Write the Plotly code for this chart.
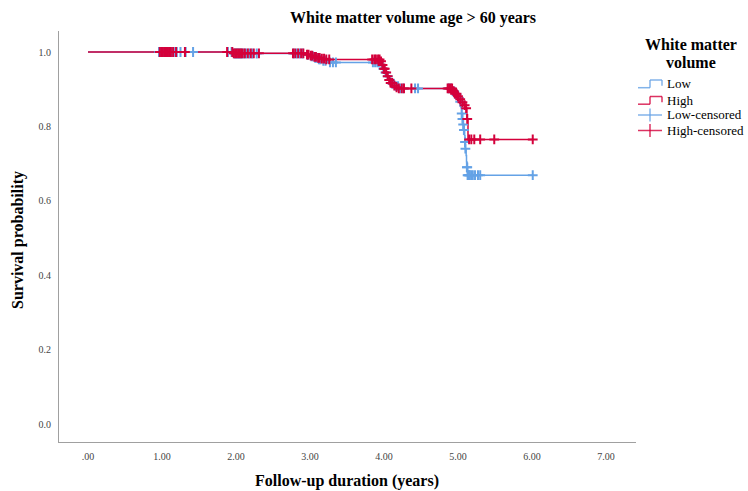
import numpy as np
import plotly.graph_objects as go

# Kaplan-Meier step estimates (time in years, survival after each event)
low_times = [0.0, 1.97, 2.95, 3.00, 3.05, 3.10, 3.16, 3.25,
             3.95, 3.98, 4.01, 4.04, 4.07, 4.10, 4.15, 4.20,
             4.93, 4.96, 4.99, 5.02, 5.04, 5.05, 5.06, 5.07, 5.08, 5.09,
             5.095, 5.10, 5.11, 5.115, 5.12, 5.13, 6.01]
low_surv = [1.000, 0.996, 0.992, 0.988, 0.984, 0.980, 0.976, 0.972,
            0.965, 0.955, 0.945, 0.935, 0.925, 0.915, 0.908, 0.902,
            0.894, 0.886, 0.877, 0.866, 0.850, 0.835, 0.820, 0.805, 0.790, 0.775,
            0.758, 0.740, 0.722, 0.705, 0.690, 0.669, 0.669]

high_times = [0.0, 1.97, 2.95, 3.00, 3.05, 3.10, 3.15, 3.22,
              3.95, 3.98, 4.00, 4.02, 4.04, 4.06, 4.09, 4.12, 4.16, 4.20,
              4.93, 4.96, 4.99, 5.02, 5.05, 5.08, 5.11, 5.12, 5.135, 6.01]
high_surv = [1.000, 0.9965, 0.993, 0.990, 0.987, 0.984, 0.982, 0.980,
             0.975, 0.965, 0.955, 0.945, 0.935, 0.925, 0.917, 0.910, 0.905, 0.902,
             0.895, 0.888, 0.881, 0.873, 0.865, 0.857, 0.849, 0.820, 0.765, 0.765]

# Censoring times per group
low_censor = [0.96, 0.98, 1.00, 1.02, 1.04, 1.06, 1.08, 1.10, 1.13, 1.16, 1.20, 1.25, 1.32, 1.42,
              1.89, 1.94, 1.98, 2.00, 2.02, 2.04, 2.06, 2.08, 2.11, 2.14, 2.18, 2.22, 2.28,
              2.78, 2.82, 2.86, 2.90, 2.97, 3.02, 3.04, 3.07, 3.09, 3.12, 3.14, 3.18, 3.21, 3.27, 3.31, 3.35,
              3.85, 3.88, 3.91, 3.93, 3.97, 3.99, 4.02, 4.05, 4.08, 4.11, 4.13, 4.16, 4.19, 4.22, 4.26, 4.42, 4.46,
              4.87, 4.90, 4.93, 4.95, 4.98, 5.01, 5.03, 5.05, 5.06, 5.07, 5.08, 5.095, 5.10, 5.12, 5.125,
              5.13, 5.14, 5.15, 5.16, 5.18, 5.20, 5.23, 5.27, 5.30, 6.01]
high_censor = [0.97, 0.99, 1.00, 1.01, 1.03, 1.05, 1.06, 1.08, 1.10, 1.12, 1.15, 1.19, 1.31,
               1.88, 1.95, 1.97, 1.99, 2.01, 2.03, 2.05, 2.07, 2.09, 2.12, 2.16, 2.20, 2.24, 2.31,
               2.77, 2.80, 2.84, 2.88, 2.91, 2.96, 2.98, 3.01, 3.03, 3.06, 3.08, 3.11, 3.13, 3.16, 3.19, 3.22, 3.26,
               3.84, 3.87, 3.89, 3.92, 3.94, 3.96, 3.98, 4.00, 4.01, 4.03, 4.05, 4.07, 4.09, 4.11, 4.14, 4.17,
               4.20, 4.24, 4.27, 4.37,
               4.86, 4.88, 4.90, 4.92, 4.94, 4.96, 4.98, 5.00, 5.03, 5.06, 5.09, 5.11, 5.125,
               5.15, 5.18, 5.22, 5.30, 5.49, 6.01]

x_ticks = [0, 1, 2, 3, 4, 5, 6, 7]
x_ticktext = [".00", "1.00", "2.00", "3.00", "4.00", "5.00", "6.00", "7.00"]
y_ticks = [0.0, 0.2, 0.4, 0.6, 0.8, 1.0]
y_ticktext = ["0.0", "0.2", "0.4", "0.6", "0.8", "1.0"]

BLUE = "#64a2e6"
RED = "#d4003b"
SERIF = "Liberation Serif, Times New Roman, serif"


def surv_at(times, surv, t):
    """Survival estimate in effect at time t (right-continuous step)."""
    idx = np.searchsorted(np.asarray(times), np.asarray(t), side="right") - 1
    return np.asarray(surv)[idx]


fig = go.Figure()
fig.add_trace(go.Scatter(x=low_times, y=low_surv, mode="lines", line=dict(shape="hv", color=BLUE, width=1.5),
                         name="Low", showlegend=False))
fig.add_trace(go.Scatter(x=high_times, y=high_surv, mode="lines", line=dict(shape="hv", color=RED, width=1.5),
                         name="High", showlegend=False))
fig.add_trace(go.Scatter(x=low_censor, y=surv_at(low_times, low_surv, low_censor), mode="markers",
                         marker=dict(symbol="cross-thin", size=7, line=dict(color=BLUE, width=2)),
                         name="Low-censored", showlegend=False))
fig.add_trace(go.Scatter(x=high_censor, y=surv_at(high_times, high_surv, high_censor), mode="markers",
                         marker=dict(symbol="cross-thin", size=7, line=dict(color=RED, width=2)),
                         name="High-censored", showlegend=False))

# plot area in pixels: x 59..636, y 31..442
L, R, T, B = 59, 636, 31, 442
W, H = 748, 491


def px(p):
    return (p - L) / (R - L)


def py(q):
    return (B - q) / (B - T)


shapes = []
annotations = []

# Legend block
annotations.append(dict(text="<b>White matter</b>", x=px(691), y=py(45), xref="paper", yref="paper",
                        xanchor="center", yanchor="middle", showarrow=False,
                        font=dict(family=SERIF, size=16, color="#000")))
annotations.append(dict(text="<b>volume</b>", x=px(691), y=py(62), xref="paper", yref="paper",
                        xanchor="center", yanchor="middle", showarrow=False,
                        font=dict(family=SERIF, size=16, color="#000")))

legend_items = [("Low", BLUE, "step", 84), ("High", RED, "step", 100.5),
                ("Low-censored", BLUE, "cross", 115), ("High-censored", RED, "cross", 130.5)]
for label, col, kind, yc in legend_items:
    if kind == "step":
        segs = [(638, yc + 3.7, 650, yc + 3.7), (650, yc + 3.7, 650, yc - 4),
                (650, yc - 4, 662, yc - 4), (662, yc - 4, 662, yc + 1.7)]
    else:
        segs = [(638, yc, 662, yc), (650, yc - 6.5, 650, yc + 6.5)]
    for x0, y0, x1, y1 in segs:
        shapes.append(dict(type="line", xref="paper", yref="paper", x0=px(x0), y0=py(y0), x1=px(x1), y1=py(y1),
                           line=dict(color=col, width=1.5), opacity=0.8))
    annotations.append(dict(text=label, x=px(665), y=py(yc), xref="paper", yref="paper",
                            xanchor="left", yanchor="middle", showarrow=False,
                            font=dict(family=SERIF, size=13, color="#000")))

# Titles
annotations.append(dict(text="<b>White matter volume age > 60 years</b>", x=px(413), y=py(18),
                        xref="paper", yref="paper", xanchor="center", yanchor="middle", showarrow=False,
                        font=dict(family=SERIF, size=16, color="#000")))
annotations.append(dict(text="<b>Follow-up duration (years)</b>", x=px(347), y=py(481),
                        xref="paper", yref="paper", xanchor="center", yanchor="middle", showarrow=False,
                        font=dict(family=SERIF, size=16, color="#000")))
annotations.append(dict(text="<b>Survival probability</b>", x=px(18), y=py(240), textangle=-90,
                        xref="paper", yref="paper", xanchor="center", yanchor="middle", showarrow=False,
                        font=dict(family=SERIF, size=16, color="#000")))

fig.update_layout(
    width=W, height=H,
    margin=dict(l=L, r=W - R, t=T, b=H - B, pad=0),
    paper_bgcolor="white", plot_bgcolor="white",
    showlegend=False,
    shapes=shapes, annotations=annotations,
    xaxis=dict(range=[(L - 88) / 74, (R - 88) / 74], tickvals=x_ticks, ticktext=x_ticktext,
               showgrid=False, zeroline=False, showline=True, linecolor="#a0a0a0", linewidth=1.2,
               ticks="", ticklabelstandoff=5,
               tickfont=dict(family=SERIF, size=10, color="#444")),
    yaxis=dict(range=[(424 - B) / 372, (424 - T) / 372], tickvals=y_ticks, ticktext=y_ticktext,
               showgrid=False, zeroline=False, showline=True, linecolor="#a0a0a0", linewidth=1.2,
               ticks="", ticklabelstandoff=5,
               tickfont=dict(family=SERIF, size=10, color="#444")),
)

fig.write_html("out.html")
